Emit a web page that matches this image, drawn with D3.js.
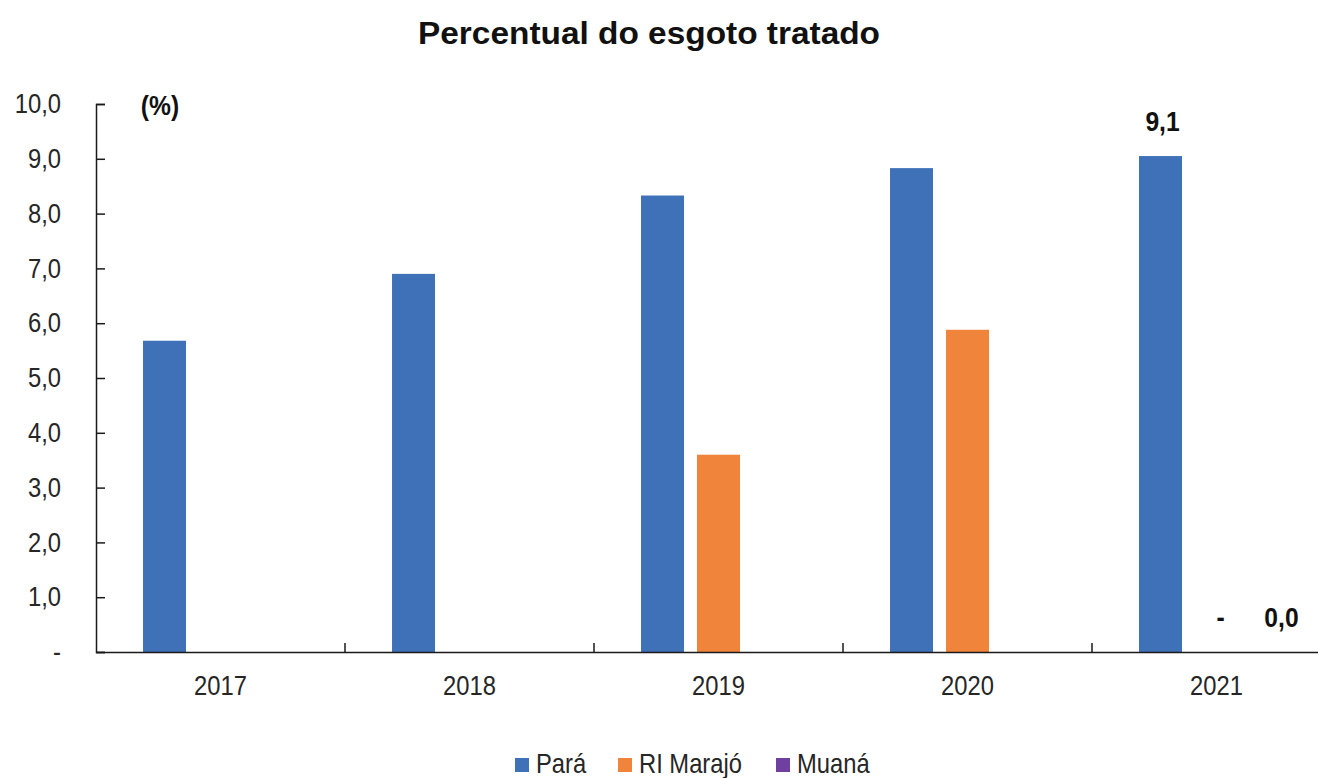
<!DOCTYPE html>
<html>
<head>
    <meta charset="utf-8">
    <title>Percentual do esgoto tratado</title>
    <script src="https://d3js.org/d3.v7.min.js"></script>
    <style>
        body { margin: 0; background: #fff; }
        text { font-family: "Liberation Sans", Arial, sans-serif; fill: #262626; }
    </style>
</head>
<body>
<div id="chart"></div>
<script>
const years = ["2017", "2018", "2019", "2020", "2021"];
const series = ["Pará", "RI Marajó", "Muaná"];
const colors = ["#3f71b8", "#f0843b", "#7040a0"];
const para = [5.68, 6.9, 8.33, 8.83, 9.05];
const marajo = [null, null, 3.6, 5.88, 0];
const muana = [null, null, null, null, 0];
const yTicks = [0, 1, 2, 3, 4, 5, 6, 7, 8, 9, 10];
// data labels shown in the source (last year only)
const labelYear = "2021";
const labels2021 = ["9,1", "-", "0,0"];

const width = 1318, height = 778;
const plotLeft = 96, plotRight = 1341, plotTop = 104, plotBottom = 652;
const narrow = 0.88; // the source font is a condensed Arial

const svg = d3.select("#chart").append("svg")
    .attr("width", width)
    .attr("height", height);

const x0 = d3.scaleBand().domain(years).range([plotLeft, plotRight]);
const x1 = d3.scaleBand().domain(series).range([0, x0.bandwidth()])
    .paddingInner(0.232).paddingOuter(0.84);
const y = d3.scaleLinear().domain([0, 10]).range([plotBottom, plotTop]);

const fmt = v => v === 0 ? "-" : d3.format(".1f")(v).replace(".", ",");

// title
svg.append("text")
    .attr("x", 418).attr("y", 44)
    .attr("textLength", 462).attr("lengthAdjust", "spacingAndGlyphs")
    .style("font-size", "31px").style("font-weight", "bold")
    .style("fill", "#111")
    .text("Percentual do esgoto tratado");

svg.append("text")
    .attr("transform", `translate(160,115) scale(${narrow},1)`)
    .attr("text-anchor", "middle")
    .style("font-size", "28px").style("font-weight", "bold")
    .style("fill", "#111")
    .text("(%)");

// bars
const rows = [];
years.forEach((yr, i) => {
    [para, marajo, muana].forEach((arr, j) => {
        if (arr[i] !== null) rows.push({ year: yr, s: series[j], c: colors[j], v: arr[i], j: j });
    });
});

svg.selectAll(".bar")
    .data(rows.filter(d => d.v > 0))
    .join("rect")
    .attr("class", "bar")
    .attr("x", d => x0(d.year) + x1(d.s))
    .attr("width", x1.bandwidth())
    .attr("y", d => y(d.v))
    .attr("height", d => y(0) - y(d.v))
    .attr("fill", d => d.c);

// data labels
const labelShift = [2, 4, 9];
svg.selectAll(".dlabel")
    .data(rows.filter(d => d.year === labelYear))
    .join("text")
    .attr("class", "dlabel")
    .attr("transform", d => `translate(${x0(d.year) + x1(d.s) + x1.bandwidth() / 2 + labelShift[d.j]},${y(d.v) - 25}) scale(${narrow},1)`)
    .attr("text-anchor", "middle")
    .style("font-size", "28px").style("font-weight", "bold")
    .style("fill", "#111")
    .text(d => labels2021[d.j]);

// y axis
const yAxis = svg.append("g")
    .attr("transform", `translate(${plotLeft},0)`)
    .call(d3.axisLeft(y).tickValues(yTicks).tickSize(-9).tickFormat(fmt));
yAxis.select(".domain").attr("stroke", "#1a1a1a").attr("stroke-width", 1.5);
yAxis.selectAll(".tick line").attr("stroke", "#1a1a1a").attr("stroke-width", 1.5);
yAxis.selectAll(".tick text")
    .attr("x", null)
    .attr("transform", `translate(-35,0) scale(${narrow},1)`)
    .attr("fill", "#262626")
    .style("font-size", "27px")
    .style("font-family", null);

// x axis
const xAxis = svg.append("g")
    .attr("transform", `translate(0,${plotBottom})`)
    .call(d3.axisBottom(x0).tickSize(0).tickPadding(24));
xAxis.select(".domain").attr("stroke", "#1a1a1a").attr("stroke-width", 1.5);
xAxis.selectAll(".tick text")
    .attr("transform", `scale(${narrow},1)`)
    .attr("fill", "#262626")
    .style("font-size", "27px")
    .style("font-family", null);

// category separators
svg.selectAll(".sep")
    .data(years.slice(1))
    .join("line")
    .attr("class", "sep")
    .attr("x1", d => x0(d)).attr("x2", d => x0(d))
    .attr("y1", plotBottom).attr("y2", plotBottom - 9)
    .attr("stroke", "#1a1a1a").attr("stroke-width", 1.5);

// legend
const legendX = [515, 618, 776];
const legend = svg.selectAll(".leg")
    .data(series)
    .join("g")
    .attr("class", "leg")
    .attr("transform", (d, i) => `translate(${legendX[i]},758)`);
legend.append("rect")
    .attr("width", 14).attr("height", 14)
    .attr("fill", (d, i) => colors[i]);
legend.append("text")
    .attr("transform", `translate(21,15) scale(${narrow},1)`)
    .style("font-size", "27px")
    .text(d => d);
</script>
</body>
</html>
